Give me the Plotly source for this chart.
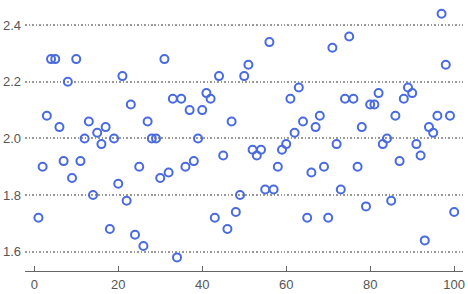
import plotly.graph_objects as go

x_values = list(range(1, 101))
y_values = [
    1.72, 1.90, 2.08, 2.28, 2.28, 2.04, 1.92, 2.20, 1.86, 2.28,
    1.92, 2.00, 2.06, 1.80, 2.02, 1.98, 2.04, 1.68, 2.00, 1.84,
    2.22, 1.78, 2.12, 1.66, 1.90, 1.62, 2.06, 2.00, 2.00, 1.86,
    2.28, 1.88, 2.14, 1.58, 2.14, 1.90, 2.10, 1.92, 2.00, 2.10,
    2.16, 2.14, 1.72, 2.22, 1.94, 1.68, 2.06, 1.74, 1.80, 2.22,
    2.26, 1.96, 1.94, 1.96, 1.82, 2.34, 1.82, 1.90, 1.96, 1.98,
    2.14, 2.02, 2.18, 2.06, 1.72, 1.88, 2.04, 2.08, 1.90, 1.72,
    2.32, 1.98, 1.82, 2.14, 2.36, 2.14, 1.90, 2.04, 1.76, 2.12,
    2.12, 2.16, 1.98, 2.00, 1.78, 2.08, 1.92, 2.14, 2.18, 2.16,
    1.98, 1.94, 1.64, 2.04, 2.02, 2.08, 2.44, 2.26, 2.08, 1.74,
]
x_ticks = [0, 20, 40, 60, 80, 100]
y_ticks = [1.6, 1.8, 2.0, 2.2, 2.4]
y_tick_labels = ["1.6", "1.8", "2.0", "2.2", "2.4"]

fig = go.Figure()
fig.add_trace(go.Scatter(
    x=x_values, y=y_values, mode="markers",
    marker=dict(symbol="circle-open", size=8, color="#4a6be0",
                line=dict(width=2, color="#4a6be0")),
    showlegend=False,
))

fig.update_layout(
    width=468, height=294,
    margin=dict(l=25, r=5, t=5, b=23),
    plot_bgcolor="white", paper_bgcolor="white",
    font=dict(family="Liberation Sans, Arial, sans-serif", size=13, color="#555555"),
    xaxis=dict(
        range=[-2.2, 102.1], tickvals=x_ticks,
        showgrid=False, zeroline=False, automargin=False,
        showline=True, linecolor="#666666", linewidth=1,
        ticks="inside", ticklen=5, tickcolor="#666666", tickwidth=1,
        ticklabelstandoff=1,
    ),
    yaxis=dict(
        range=[1.532, 2.471], tickvals=y_ticks, ticktext=y_tick_labels,
        showgrid=True, gridcolor="#999999", griddash="1.5px,2px", gridwidth=1.5,
        zeroline=False, showline=False, ticks="", automargin=False,
        ticklabelstandoff=3,
    ),
)

fig.write_html(
    "out.html",
    config={"displayModeBar": False},
    post_script="document.body.style.margin='0';document.body.style.padding='0';",
)
